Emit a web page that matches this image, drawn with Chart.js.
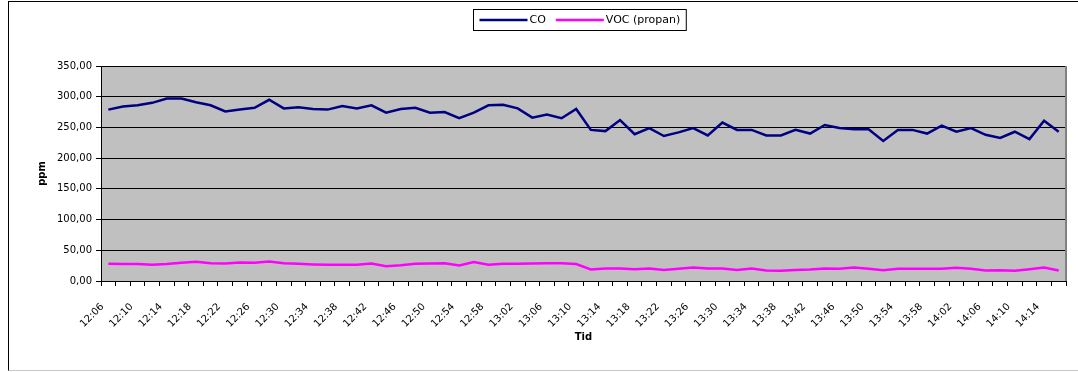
<!DOCTYPE html>
<html>
<head>
<meta charset="utf-8">
<script src="https://cdn.jsdelivr.net/npm/chart.js@4/dist/chart.umd.min.js"></script>
<style>
  html, body { margin: 0; padding: 0; background: #fff; overflow: hidden; }
  #frame { position: absolute; left: 8px; top: 1px; width: 1100px; height: 368px;
           border-left: 1px solid #000; border-top: 1px solid #000; border-bottom: 1px solid #c8c8c8; }
  #wrap { position: absolute; left: 0; top: 0; width: 1078px; height: 372px; }
</style>
</head>
<body>
<div id="frame"></div>
<div id="wrap"><canvas id="c" width="1078" height="372"></canvas></div>
<script>
const categories = [
  "12:06","12:08","12:10","12:12","12:14","12:16","12:18","12:20","12:22","12:24",
  "12:26","12:28","12:30","12:32","12:34","12:36","12:38","12:40","12:42","12:44",
  "12:46","12:48","12:50","12:52","12:54","12:56","12:58","13:00","13:02","13:04",
  "13:06","13:08","13:10","13:12","13:14","13:16","13:18","13:20","13:22","13:24",
  "13:26","13:28","13:30","13:32","13:34","13:36","13:38","13:40","13:42","13:44",
  "13:46","13:48","13:50","13:52","13:54","13:56","13:58","14:00","14:02","14:04",
  "14:06","14:08","14:10","14:12","14:14","14:16"
];
const tickLabels = [
  "12:06","12:10","12:14","12:18","12:22","12:26","12:30","12:34","12:38","12:42",
  "12:46","12:50","12:54","12:58","13:02","13:06","13:10","13:14","13:18","13:22",
  "13:26","13:30","13:34","13:38","13:42","13:46","13:50","13:54","13:58","14:02",
  "14:06","14:10","14:14"
];
const coValues = [
  279,284,286,290,297,297,291,286,276,279,
  282,295,281,283,280,279,285,281,286,274,
  280,282,274,275,265,274,286,287,281,266,
  271,265,280,246,244,262,239,249,236,242,
  249,237,258,246,246,237,237,246,240,254,
  249,247,247,228,246,246,240,253,243,249,
  238,233,243,231,261,243
];
const vocValues = [
  28,27.5,27.5,26.4,27.5,29.7,31.3,29,28.6,30,
  29.7,31.9,29,28,27,26.4,26.6,26.4,28.6,24.2,
  25.8,28,28.6,29,25.3,30.8,26.4,28,28,28.6,
  29,29,27.5,18.7,20.3,20.3,19.2,20.3,18,19.8,
  22,20.3,20.3,18,20.3,17,16.5,18,18.7,20.3,
  19.8,22,19.8,17.6,19.8,19.8,19.8,19.8,21.4,19.8,
  17,17.6,16.5,19.2,22,17
];
const seriesNames = ["CO", "VOC (propan)"];
const yTicks = [0, 50, 100, 150, 200, 250, 300, 350];

const FONT = "'DejaVu Sans', 'Liberation Sans', Arial, sans-serif";

const plotBg = {
  id: 'plotBg',
  beforeDraw(chart) {
    const {ctx, chartArea: a} = chart;
    ctx.save();
    ctx.fillStyle = '#c0c0c0';
    ctx.fillRect(a.left, a.top, a.right - a.left, a.bottom - a.top);
    ctx.restore();
  },
  beforeDatasetsDraw(chart) {
    const {ctx, chartArea: a} = chart;
    ctx.save();
    ctx.strokeStyle = '#808080';
    ctx.lineWidth = 2;
    ctx.beginPath();
    ctx.moveTo(a.right, a.top);
    ctx.lineTo(a.right, a.bottom);
    ctx.stroke();
    ctx.restore();
  }
};

const boxLegend = {
  id: 'boxLegend',
  afterDraw(chart) {
    const {ctx, chartArea: a} = chart;
    const ds = chart.data.datasets;
    ctx.save();
    ctx.font = "11px " + FONT;
    const lineLen = 48, gap = 2, itemGap = 10, pad = 6;
    let total = pad * 2;
    ds.forEach((d, i) => {
      total += lineLen + gap + ctx.measureText(d.label).width;
      if (i < ds.length - 1) total += itemGap;
    });
    const cx = (a.left + a.right) / 2 - 4;
    const left = Math.round(cx - total / 2) + 0.5;
    const top = 9.5, h = 21;
    ctx.fillStyle = '#fff';
    ctx.fillRect(left, top, total, h);
    ctx.strokeStyle = '#000';
    ctx.lineWidth = 1;
    ctx.strokeRect(left, top, total, h);
    let x = left + pad;
    const y = top + h / 2;
    ds.forEach((d, i) => {
      ctx.strokeStyle = d.borderColor;
      ctx.lineWidth = 2.5;
      ctx.beginPath();
      ctx.moveTo(x, y);
      ctx.lineTo(x + lineLen, y);
      ctx.stroke();
      x += lineLen + gap;
      ctx.fillStyle = '#000';
      ctx.textBaseline = 'middle';
      ctx.textAlign = 'left';
      ctx.fillText(d.label, x, y + 0.5);
      x += ctx.measureText(d.label).width + itemGap;
    });
    ctx.restore();
  }
};

new Chart(document.getElementById('c'), {
  type: 'line',
  data: {
    labels: categories,
    datasets: [
      { label: seriesNames[0], data: coValues, borderColor: '#000080', backgroundColor: '#000080',
        borderWidth: 2.5, pointRadius: 0, tension: 0 },
      { label: seriesNames[1], data: vocValues, borderColor: '#ff00ff', backgroundColor: '#ff00ff',
        borderWidth: 2.5, pointRadius: 0, tension: 0 }
    ]
  },
  options: {
    responsive: false,
    animation: false,
    devicePixelRatio: 1,
    layout: { padding: { left: 0, right: 12, top: 66, bottom: 0 } },
    plugins: { legend: { display: false }, tooltip: { enabled: false } },
    scales: {
      x: {
        type: 'category',
        offset: true,
        grid: { offset: true, drawOnChartArea: false, drawTicks: true, tickLength: 5, color: '#000' },
        border: { color: '#000', width: 1 },
        ticks: {
          autoSkip: false, maxRotation: 45, minRotation: 45, padding: 15, labelOffset: -6,
          color: '#000', font: { family: FONT, size: 10 },
          callback: function(v, i) { const l = categories[i]; return tickLabels.includes(l) ? l : ''; }
        },
        title: { display: true, text: 'Tid', color: '#000', font: { family: FONT, size: 10, weight: 'bold' },
                 padding: { top: 4, bottom: 29 } },
        afterFit(scale) { scale.height = 91; scale.paddingLeft = 0; scale.paddingRight = 0; }
      },
      y: {
        min: 0, max: 350,
        afterBuildTicks(scale) { scale.ticks = yTicks.map(v => ({ value: v })); },
        grid: { color: '#000', lineWidth: 1, tickLength: 5 },
        border: { color: '#000', width: 1 },
        ticks: {
          color: '#000', padding: 4, font: { family: FONT, size: 10 },
          callback: v => v.toFixed(2).replace('.', ',')
        },
        title: { display: true, text: 'ppm', color: '#000', font: { family: FONT, size: 10, weight: 'bold' },
                 padding: { top: 36, bottom: 4 } },
        afterFit(scale) { scale.width = 101; scale.paddingTop = 0; scale.paddingBottom = 0; }
      }
    }
  },
  plugins: [plotBg, boxLegend]
});
</script>
</body>
</html>
